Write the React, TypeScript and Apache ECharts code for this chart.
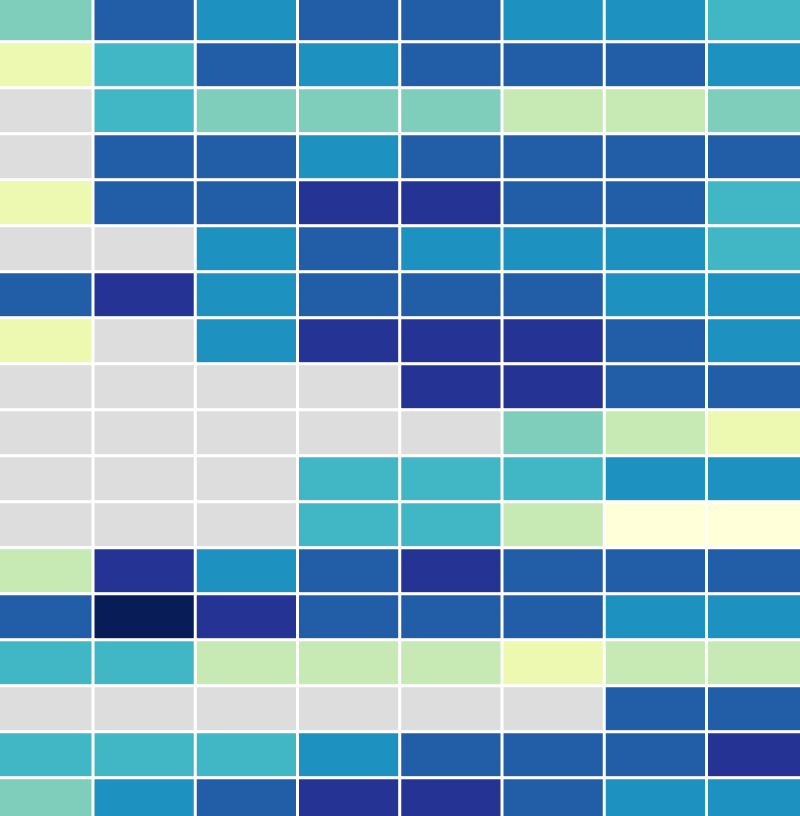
import React, { useEffect, useRef } from "react";
import * as echarts from "echarts";

// column and row categories
const xCategories = ["C1", "C2", "C3", "C4", "C5", "C6", "C7", "C8"];
const yCategories = [
  "R1", "R2", "R3", "R4", "R5", "R6", "R7", "R8", "R9",
  "R10", "R11", "R12", "R13", "R14", "R15", "R16", "R17", "R18",
];

// level per cell (0 = missing / no data), rows top to bottom
const row01 = [4, 7, 6, 7, 7, 6, 6, 5];
const row02 = [2, 5, 7, 6, 7, 7, 7, 6];
const row03 = [0, 5, 4, 4, 4, 3, 3, 4];
const row04 = [0, 7, 7, 6, 7, 7, 7, 7];
const row05 = [2, 7, 7, 8, 8, 7, 7, 5];
const row06 = [0, 0, 6, 7, 6, 6, 6, 5];
const row07 = [7, 8, 6, 7, 7, 7, 6, 6];
const row08 = [2, 0, 6, 8, 8, 8, 7, 6];
const row09 = [0, 0, 0, 0, 8, 8, 7, 7];
const row10 = [0, 0, 0, 0, 0, 4, 3, 2];
const row11 = [0, 0, 0, 5, 5, 5, 6, 6];
const row12 = [0, 0, 0, 5, 5, 3, 1, 1];
const row13 = [3, 8, 6, 7, 8, 7, 7, 7];
const row14 = [7, 9, 8, 7, 7, 7, 6, 6];
const row15 = [5, 5, 3, 3, 3, 2, 3, 3];
const row16 = [0, 0, 0, 0, 0, 0, 7, 7];
const row17 = [5, 5, 5, 6, 7, 7, 7, 8];
const row18 = [4, 6, 7, 8, 8, 7, 6, 6];

const rows = [
  row01, row02, row03, row04, row05, row06, row07, row08, row09,
  row10, row11, row12, row13, row14, row15, row16, row17, row18,
];

const levelColors = [
  "#dddddd", "#ffffd9", "#edf8b1", "#c7e9b4", "#7fcdbb",
  "#41b6c4", "#1d91c0", "#225ea8", "#253494", "#081d58",
];

export default function App() {
  const ref = useRef<HTMLDivElement>(null);
  useEffect(() => {
    if (!ref.current) return;
    const chart = echarts.init(ref.current, undefined, { renderer: "svg" });
    const data: [number, number, number][] = [];
    rows.forEach((row, yi) => {
      row.forEach((v, xi) => data.push([xi, yi, v]));
    });
    chart.setOption({
      animation: false,
      grid: { left: 0, right: 0, top: 0, bottom: 0 },
      xAxis: {
        type: "category",
        data: xCategories,
        show: false,
      },
      yAxis: {
        type: "category",
        data: yCategories,
        inverse: true,
        show: false,
      },
      visualMap: {
        type: "piecewise",
        show: false,
        dimension: 2,
        pieces: levelColors.map((c, i) => ({ value: i, color: c })),
      },
      series: [
        {
          type: "heatmap",
          data,
          itemStyle: { borderColor: "#ffffff", borderWidth: 3 },
        },
      ],
    });
    return () => chart.dispose();
  }, []);
  return (
    <div
      ref={ref}
      style={{
        position: "fixed",
        left: -9,
        top: -4,
        width: 818,
        height: 828,
        background: "#ffffff",
      }}
    />
  );
}
